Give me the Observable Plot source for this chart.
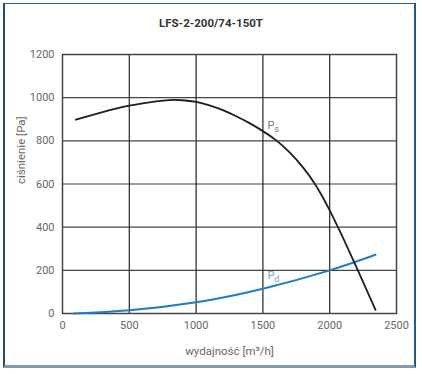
<!DOCTYPE html>
<html><head><meta charset="utf-8">
<script src="https://cdn.jsdelivr.net/npm/d3@7"></script>
<script src="https://cdn.jsdelivr.net/npm/@observablehq/plot@0.6"></script>
<style>
body{margin:0;background:#fff;}
#wrap{position:relative;width:422px;height:374px;overflow:hidden;}
#frame{position:absolute;left:3px;top:3px;width:413px;height:365px;border:1px solid #2f5f8f;border-left:2px solid #1f4e79;border-right:2px solid #1f5a8f;border-bottom:3px solid #7d9bb8;box-sizing:border-box;}
#title{position:absolute;left:0;width:422px;top:16px;text-align:center;font:bold 11.5px Roboto, sans-serif;color:#333;}
#chart{position:absolute;left:0;top:0;}
</style></head><body>
<div id="wrap"><div id="frame"></div><div id="title">LFS-2-200/74-150T</div><div id="chart"></div></div>
<script>
const flowPs = [100, 200, 300, 400, 500, 600, 700, 800, 900, 1000, 1100, 1200, 1300, 1400, 1500, 1600, 1700, 1800, 1900, 2000, 2100, 2200, 2343];
const ps     = [898, 916, 933, 949, 963, 974, 983, 989, 988, 980, 964, 942, 914, 882, 845, 802, 746, 677, 590, 478, 350, 215, 17];
const flowPd = [85, 500, 1000, 1500, 2000, 2343];
const pd     = [0, 15, 52, 115, 200, 272];
const xTicks = [0, 500, 1000, 1500, 2000, 2500];
const yTicks = [0, 200, 400, 600, 800, 1000, 1200];
const labelNames = ["P", "P"];
const labelSubs = ["s", "d"];
const labelX = [1535, 1535];
const labelY = [856, 162];
const labelColors = ["#6b7590", "#5aa8dc"];

const psData = flowPs.map((x, i) => ({x, y: ps[i]}));
const pdData = flowPd.map((x, i) => ({x, y: pd[i]}));
const labels = labelNames.map((t, i) => ({t, s: labelSubs[i], x: labelX[i], y: labelY[i], c: labelColors[i]}));

const chart = Plot.plot({
  width: 422, height: 374,
  marginLeft: 62, marginRight: 26, marginTop: 54, marginBottom: 61,
  style: {fontFamily: "Roboto, sans-serif", fontSize: "11px", color: "#6e665e", background: "transparent"},
  x: {domain: [0, 2500], label: null},
  y: {domain: [0, 1200], label: null},
  marks: [
    Plot.ruleY(yTicks.slice(1, -1), {stroke: "#444", strokeWidth: 1.2, strokeOpacity: 1}),
    Plot.ruleX(xTicks.slice(1, -1), {stroke: "#222", strokeWidth: 1.2, strokeOpacity: 1}),
    Plot.frame({stroke: "#444", strokeWidth: 1.5}),
    Plot.axisX({ticks: xTicks, tickSize: 0, tickPadding: 8, tickFormat: d => String(d), fill: "#6e665e", label: null}),
    Plot.axisY({ticks: yTicks, tickSize: 0, tickPadding: 8, tickFormat: d => String(d), fill: "#6e665e", label: null}),
    Plot.line(pdData, {x: "x", y: "y", stroke: "#1f7bc4", strokeWidth: 2, curve: "natural"}),
    Plot.line(psData, {x: "x", y: "y", stroke: "#1e1e1e", strokeWidth: 1.8, curve: "natural"}),
    Plot.text(labels, {x: "x", y: "y", text: "t", fill: "c", textAnchor: "start", lineAnchor: "bottom", fontSize: 11}),
    Plot.text(labels, {x: "x", y: "y", text: "s", fill: "c", textAnchor: "start", lineAnchor: "bottom", fontSize: 8.5, dx: 7, dy: 3}),
    Plot.text(["wydajność [m³/h]"], {frameAnchor: "bottom", dy: 38, fill: "#6e665e", fontSize: 11.5, lineAnchor: "middle"}),
    Plot.text(["ciśnienie [Pa]"], {frameAnchor: "left", dx: -41, rotate: -90, fill: "#6e665e", fontSize: 11.5, lineAnchor: "middle"})
  ]
});
document.getElementById("chart").appendChild(chart);
</script></body></html>
